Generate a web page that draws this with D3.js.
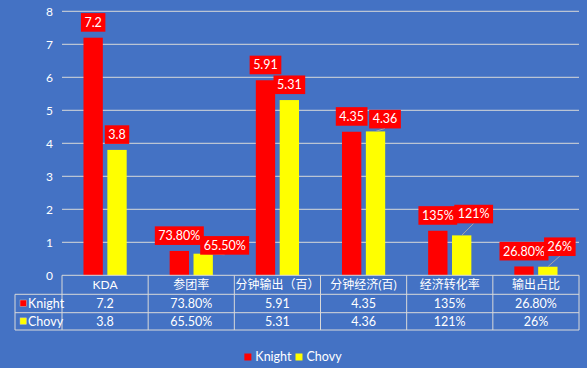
<!DOCTYPE html>
<html>
<head>
<meta charset="utf-8">
<script src="https://cdn.jsdelivr.net/npm/d3@7"></script>
<style>
  body { margin: 0; background: #4472C4; }
  text { font-family: Lato, "Microsoft YaHei", "Noto Sans CJK SC", sans-serif; fill: #fff; }
</style>
</head>
<body>
<svg width="587" height="368"></svg>
<script>
const categories = ['KDA', '参团率', '分钟输出（百）', '分钟经济(百)', '经济转化率', '输出占比']
const series = ['Knight', 'Chovy']
const colors = ['#FF0000', '#FFFF00']
const knight = [7.2, 0.738, 5.91, 4.35, 1.35, 0.268]
const chovy = [3.8, 0.655, 5.31, 4.36, 1.21, 0.26]
const knightText = ['7.2', '73.80%', '5.91', '4.35', '135%', '26.80%']
const chovyText = ['3.8', '65.50%', '5.31', '4.36', '121%', '26%']
const yTicks = [0, 1, 2, 3, 4, 5, 6, 7, 8]

// labels that were dragged off their bar in the original (series, category) -> [dx, dy]
const labelNudge = { 'Chovy|1': [21.5, 7], 'Chovy|3': [9.5, 3], 'Chovy|4': [12, -6], 'Chovy|5': [12, -4.7] }

const values = [knight, chovy]
const texts = [knightText, chovyText]

const svg = d3.select('svg')
const plotL = 62, plotR = 579, plotT = 11.3, plotB = 275.3
const grid = '#D9D9D9'

const x0 = d3.scaleBand().domain(categories).range([plotL, plotR])
const x1 = d3.scaleBand().domain(series).range([0, x0.bandwidth()]).paddingInner(0.19).paddingOuter(0.9)
const y = d3.scaleLinear().domain([0, 8]).range([plotB, plotT])

// gridlines
svg.append('g').selectAll('line').data(yTicks.slice(1)).join('line')
  .attr('x1', plotL).attr('x2', plotR)
  .attr('y1', d => y(d)).attr('y2', d => y(d))
  .attr('stroke', grid).attr('stroke-width', 1)

svg.append('g').selectAll('text').data(yTicks).join('text')
  .attr('x', 53).attr('y', d => y(d)).attr('dy', '0.35em')
  .attr('text-anchor', 'end').attr('font-size', 12)
  .text(d => d)

// bars
const groups = svg.append('g').selectAll('g').data(categories).join('g')
  .attr('transform', d => `translate(${x0(d)},0)`)

groups.selectAll('rect').data((c, i) => series.map((s, k) => ({ s, k, v: values[k][i] })))
  .join('rect')
  .attr('x', d => x1(d.s)).attr('width', x1.bandwidth())
  .attr('y', d => y(d.v)).attr('height', d => y(0) - y(d.v))
  .attr('fill', d => colors[d.k])

// data labels
const labels = []
categories.forEach((c, i) => {
  series.forEach((s, k) => {
    const cx = x0(c) + x1(s) + x1.bandwidth() / 2
    const barTop = y(values[k][i])
    const n = labelNudge[s + '|' + i] || [0, 0]
    labels.push({ cx, barTop, bx: cx + n[0], by: barTop - 6 + n[1], t: texts[k][i], moved: n[0] !== 0 || n[1] !== 0 })
  })
})

svg.append('g').selectAll('line').data(labels.filter(d => d.moved)).join('line')
  .attr('x1', d => d.cx).attr('y1', d => d.barTop)
  .attr('x2', d => d.bx).attr('y2', d => d.by)
  .attr('stroke', '#A6A6A6').attr('stroke-width', 1)

const lab = svg.append('g').selectAll('g').data(labels).join('g')
const boxes = lab.append('rect').attr('fill', '#FF0000')
const labText = lab.append('text')
  .attr('x', d => d.bx).attr('y', d => d.by - 9.3).attr('dy', '0.35em')
  .attr('text-anchor', 'middle').attr('font-size', 12.5)
  .text(d => d.t)
labText.each(function (d) { d.w = this.getComputedTextLength() + 7 })
boxes.attr('x', d => d.bx - d.w / 2).attr('width', d => d.w)
  .attr('y', d => d.by - 18.6).attr('height', 18.6)

// data table
const rowY = [plotB, 294.3, 312.7, 330]
const tbl = svg.append('g')
tbl.append('line').attr('x1', plotL).attr('x2', plotR).attr('y1', rowY[0]).attr('y2', rowY[0]).attr('stroke', grid)
rowY.slice(1).forEach(yy => {
  tbl.append('line').attr('x1', 15).attr('x2', plotR).attr('y1', yy).attr('y2', yy).attr('stroke', grid)
})
tbl.append('line').attr('x1', 15).attr('x2', 15).attr('y1', rowY[1]).attr('y2', rowY[3]).attr('stroke', grid)
categories.concat(['end']).forEach((c, i) => {
  const xx = i < categories.length ? x0(c) : plotR
  tbl.append('line').attr('x1', xx).attr('x2', xx).attr('y1', rowY[0]).attr('y2', rowY[3]).attr('stroke', grid)
})

tbl.selectAll('text.head').data(categories).join('text')
  .attr('class', 'head')
  .attr('x', d => x0(d) + x0.bandwidth() / 2).attr('y', (rowY[0] + rowY[1]) / 2).attr('dy', '0.35em')
  .attr('text-anchor', 'middle').attr('font-size', 12)
  .text(d => d)

series.forEach((s, k) => {
  const cy = (rowY[k + 1] + rowY[k + 2]) / 2
  tbl.append('rect').attr('x', 20).attr('y', cy - 3.5).attr('width', 6.5).attr('height', 6.5)
    .attr('fill', colors[k]).attr('stroke', '#BFBFBF').attr('stroke-width', 0.5)
  tbl.append('text').attr('x', 28).attr('y', cy).attr('dy', '0.35em').attr('font-size', 12.5).text(s)
  tbl.selectAll('text.r' + k).data(texts[k]).join('text')
    .attr('class', 'r' + k)
    .attr('x', (d, i) => x0(categories[i]) + x0.bandwidth() / 2).attr('y', cy).attr('dy', '0.35em')
    .attr('text-anchor', 'middle').attr('font-size', 12.5)
    .text(d => d)
})

// legend, laid out left to right then centred under the chart
const legend = svg.append('g')
let lx = 0
series.forEach((s, k) => {
  legend.append('rect').attr('x', lx).attr('y', 353.5).attr('width', 7).attr('height', 7).attr('fill', colors[k])
  const t = legend.append('text').attr('x', lx + 11).attr('y', 357).attr('dy', '0.35em').attr('font-size', 12.5).text(s)
  lx += 11 + t.node().getComputedTextLength() + 4
})
lx -= 4
legend.attr('transform', `translate(${293 - lx / 2},0)`)
</script>
</body>
</html>
